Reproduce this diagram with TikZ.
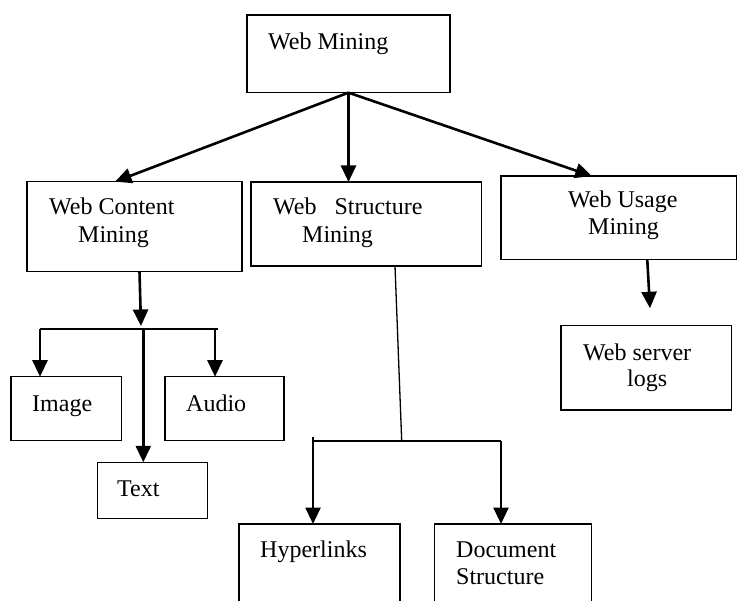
\documentclass[tikz,border=0pt]{standalone}
\usepackage{fontspec}
\setmainfont{Liberation Serif}
\usetikzlibrary{arrows.meta}
\begin{document}
\begin{tikzpicture}[x=1pt,y=-1pt,
  box/.style={draw, line width=1.5pt, inner sep=0pt, outer sep=0pt},
  lbl/.style={anchor=base west, inner sep=0pt, font=\fontsize{24}{28}\selectfont},
  arr/.style={line width=2.6pt, -{Triangle[length=16.5pt,width=15pt]}},
  bar/.style={line width=1.8pt},
  stem/.style={line width=1.3pt}]
\clip (0,0) rectangle (738,601);
\fill[white] (0,0) rectangle (738,601);

% boxes
\node[box, minimum width=203pt,   minimum height=77.7pt] (wm)  at (348.5,53.8) {};
\node[box, minimum width=215pt,   minimum height=90pt]   (wcm) at (134.5,226.7) {};
\node[box, minimum width=230.7pt, minimum height=84pt]   (wsm) at (366.3,224) {};
\node[box, minimum width=235.5pt, minimum height=83.3pt] (wum) at (618.75,217.7) {};
\node[box, minimum width=170.7pt, minimum height=84.3pt] (wsl) at (646.3,367.8) {};
\node[box, minimum width=110.7pt, minimum height=64pt]   (img) at (66.3,408.7) {};
\node[box, minimum width=119pt,   minimum height=64pt]   (aud) at (224.5,408.7) {};
\node[box, minimum width=110.4pt, minimum height=56pt]   (txt) at (152.5,490.3) {};
\node[box, minimum width=161pt,   minimum height=106pt]  (hyp) at (319.5,577) {};
\node[box, minimum width=157.4pt, minimum height=106pt]  (doc) at (513,577) {};

% labels
\node[lbl] (twm)  at (268,50)  {Web Mining};
\node[lbl] (twc1) at (49,215)  {Web Content};
\node[lbl] (twc2) at (78,243)  {Mining};
\node[lbl] (tws1) at (273,215) {Web~~~Structure};
\node[lbl] (tws2) at (302,243) {Mining};
\node[lbl] (twu1) at (568,208) {Web Usage};
\node[lbl] (twu2) at (588,235) {Mining};
\node[lbl] (tsl1) at (583,360) {Web server};
\node[lbl] (tsl2) at (627,386) {logs};
\node[lbl] (timg) at (32,411)  {Image};
\node[lbl] (taud) at (186,411) {Audio};
\node[lbl] (ttxt) at (117,496) {Text};
\node[lbl] (thyp) at (260,557) {Hyperlinks};
\node[lbl] (tdc1) at (456,557) {Document};
\node[lbl] (tdc2) at (456,584) {Structure};

% top level
\draw[arr] (wm.south) -- ([xshift=-19.5pt]wcm.north);
\draw[arr] (wm.south) -- (wm.south |- wsm.north);
\draw[arr] (wm.south) -- ([xshift=-27pt]wum.north);

% content branch
\coordinate (cj) at (141,326);
\coordinate (cl) at (40,329);
\coordinate (cr) at (217.5,329);
\coordinate (cm) at (143.3,329);
\coordinate (ca) at (215,329);
\draw[arr] ([xshift=5pt]wcm.south) -- (cj);
\draw[bar] (cl) -- (cr);
\draw[arr] (cl) -- (cl |- img.north);
\draw[arr] (ca) -- (ca |- aud.north);
\draw[arr] (cm) -- (cm |- txt.north);

% structure branch
\coordinate (sj) at (401.7,441);
\coordinate (sl) at (313,441);
\coordinate (sr) at (501,441);
\draw[stem] ([xshift=28.7pt]wsm.south) -- (sj);
\draw[bar] (sl) -- (sr);
\draw[arr] ([yshift=4pt]sl) -- (sl |- hyp.north);
\draw[arr] (sr) -- (sr |- doc.north);

% usage branch
\coordinate (uj) at (650,308.3);
\draw[arr] ([xshift=28.5pt]wum.south) -- (uj);
\end{tikzpicture}
\end{document}
